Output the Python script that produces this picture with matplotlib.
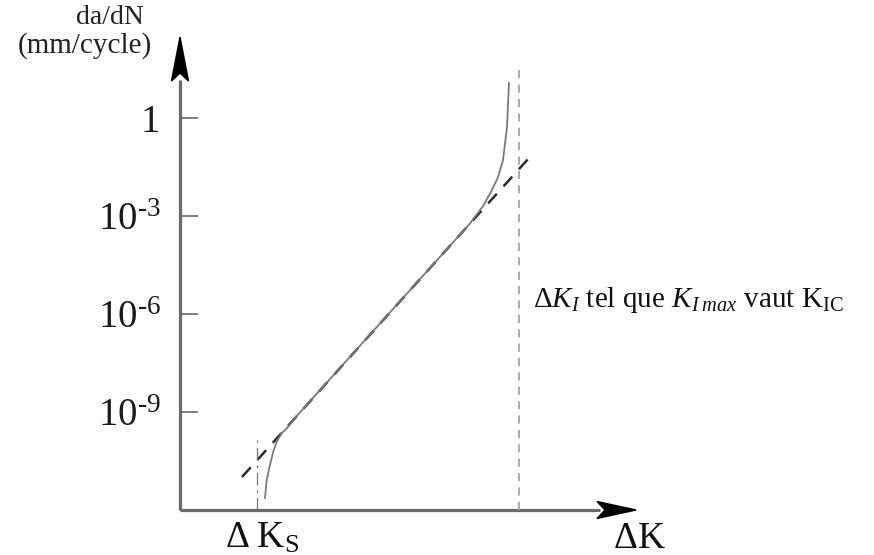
import matplotlib
matplotlib.use("Agg")
import matplotlib.pyplot as plt
from matplotlib.patches import Polygon

plt.rcParams['font.family'] = ['Liberation Serif', 'DejaVu Serif']
plt.rcParams['mathtext.fontset'] = 'custom'
plt.rcParams['mathtext.rm'] = 'Liberation Serif'
plt.rcParams['mathtext.it'] = 'Liberation Serif:italic'
plt.rcParams['mathtext.bf'] = 'Liberation Serif:bold'

# ---- data (arbitrary ΔK units, log10 of da/dN) ----
ytick_vals = [0, -3, -6, -9]
ytick_labels = ["1", r"$10^{\text{-3}}$", r"$10^{\text{-6}}$", r"$10^{\text{-9}}$"]

# Measured crack growth curve
curve_dk = [0.85, 0.867, 0.90, 0.933, 0.967, 1.017, 1.067, 1.15, 2.0, 2.9,
            2.93, 3.03, 3.12, 3.18, 3.23, 3.27, 3.29]
curve_log = [-11.63, -11.08, -10.62, -10.21, -9.91, -9.65, -9.50, -9.18, -6.29, -3.23,
             -3.10, -2.70, -2.20, -1.81, -1.29, -0.28, 1.07]

# Paris law straight line
paris_dk = [0.62, 3.50]
paris_log = [-10.99, -1.19]

dk_s = 0.77          # threshold ΔKs
dk_s_top = -9.77
dk_c = 3.39          # ΔK at which Kmax = KIC
dk_c_top = 1.47

xlim = (0, 4.56)
ylim = (-12.0, 2.48)

fig = plt.figure(figsize=(8.74, 5.55), dpi=100)
ax = fig.add_axes([180/874, 45/555, 456/874, 473/555])
ax.set_xlim(*xlim)
ax.set_ylim(*ylim)
for s in ax.spines.values():
    s.set_visible(False)

axis_col = '#6a6a6a'
# axes shafts
ax.plot([0, 0], [0, (510-80)/473], transform=ax.transAxes, color=axis_col, lw=2.3,
        clip_on=False, solid_capstyle='butt')
ax.plot([0, (600-180)/456], [0, 0], transform=ax.transAxes, color=axis_col, lw=2.3,
        clip_on=False, solid_capstyle='butt')
# arrow heads
W, H = 456.0, 473.0
yhead = Polygon([(0, 1), (-8.5/W, (510-81)/H), (0, (510-73)/H), (8.5/W, (510-81)/H)],
                closed=True, transform=ax.transAxes, color='black', clip_on=False, zorder=5)
xhead = Polygon([(1, 0), ((597-180)/W, 8.5/H), ((605-180)/W, 0), ((597-180)/W, -8.5/H)],
                closed=True, transform=ax.transAxes, color='black', clip_on=False, zorder=5)
ax.add_patch(yhead)
ax.add_patch(xhead)

# ticks
ax.set_xticks([])
ax.set_yticks(ytick_vals)
ax.set_yticklabels(ytick_labels)
ax.tick_params(axis='y', direction='in', length=13, width=1.2, color=axis_col,
               pad=14, labelsize=28, labelcolor='#1a1a1a')

# lines
ax.plot(paris_dk, paris_log, color='#2a2a2a', lw=1.8, linestyle=(0, (5.2, 4)))
ax.plot(curve_dk, curve_log, color='#7a7a7a', lw=1.3)
ax.plot([dk_s, dk_s], [ylim[0], dk_s_top], color='#777777', lw=0.9,
        linestyle=(0, (10, 4, 2, 4)))
ax.plot([dk_c, dk_c], [ylim[0], dk_c_top], color='#aaaaaa', lw=1.4,
        linestyle=(0, (4.2, 3.2)))

# texts
fig.text(110/874, 1 - 17/555, "da/dN", ha='center', va='center', fontsize=20, color='#222222')
fig.text(85/874, 1 - 46/555, "(mm/cycle)", ha='center', va='center', fontsize=21, color='#222222')
fig.text(262/874, 1 - 548/555, r"$\Delta\;\mathrm{K}_\mathrm{S}$", ha='center', va='baseline',
         fontsize=27, color='#111111')
fig.text(639/874, 1 - 548/555, r"$\Delta\mathrm{K}$", ha='center', va='baseline',
         fontsize=27, color='#111111')
fig.text(533/874, 1 - 300/555,
         r"$\mathit{\Delta K_I}$ tel que $K_{I\;max}$ vaut K$_{\mathrm{IC}}$",
         ha='left', va='center', fontsize=21, color='#111111')

fig.savefig("out.png", dpi=100)
